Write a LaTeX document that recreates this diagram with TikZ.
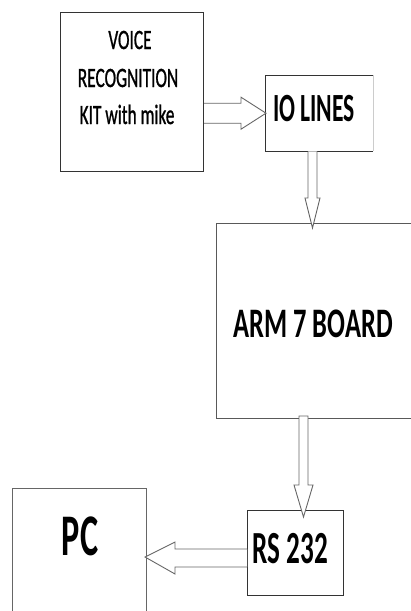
\documentclass[tikz,border=0pt]{standalone}
\usepackage{fontspec}
\setmainfont{Carlito}
\newfontfamily\voicefont[FakeBold=1.2]{Carlito}
\usetikzlibrary{calc}
\begin{document}
\begin{tikzpicture}[x=1pt,y=-1pt,
  box/.style={draw=black!80,line width=1pt,inner sep=0pt},
  arr/.style={draw=black!60,fill=white,line width=0.9pt,line join=miter},
  lbl/.style={anchor=base,inner sep=0pt}]
\useasboundingbox (0,0) rectangle (411,611);
\clip (0,0) rectangle (411,611);
% boxes
\node[box,anchor=north west,minimum width=143pt,minimum height=159pt] (voice) at (60,12) {};
\node[inner sep=0pt,anchor=north west,minimum width=108pt,minimum height=76pt] (io) at (265,75) {};
\draw[black!80,line width=1pt] (io.north east) -- (io.north west) -- (io.south west) -- (io.south east);
\draw[black!80,line width=1.8pt] (io.south west) -- (io.south east);
\draw[black!20,line width=0.8pt] (io.north east) -- (io.south east);
\node[box,draw=black!65,anchor=north west,minimum width=215pt,minimum height=195pt] (arm) at (216,223) {};
\node[box,anchor=north west,minimum width=96pt,minimum height=85pt] (rs) at (247,510) {};
\node[box,draw=black!60,anchor=north west,minimum width=134pt,minimum height=140pt] (pc) at (12,488) {};
% labels
\node[lbl] (v1) at (130,49) {\voicefont\fontsize{28}{34}\selectfont\scalebox{0.62}[1]{VOICE}};
\node[lbl] (v2) at (128,87) {\voicefont\fontsize{28}{34}\selectfont\scalebox{0.62}[1]{RECOGNITION}};
\node[lbl] (v3) at (127,124) {\voicefont\fontsize{28}{34}\selectfont\scalebox{0.62}[1]{KIT with mike}};
\node[lbl] (iot) at (314,121) {\fontsize{40}{48}\selectfont\bfseries\scalebox{0.59}[1]{IO LINES}};
\node[lbl] (armt) at (313,337) {\fontsize{42}{50}\selectfont\bfseries\scalebox{0.63}[1]{ARM 7 BOARD}};
\node[lbl] (rst) at (290.5,563) {\fontsize{46}{55}\selectfont\bfseries\scalebox{0.59}[1]{RS 232}};
\node[lbl] (pct) at (80,555) {\fontsize{59}{70}\selectfont\bfseries\scalebox{0.58}[1]{PC}};
% arrow end points
\coordinate (a1s) at (voice.east |- io.west);
\coordinate (a1t) at ([xshift=1pt]io.west);
\coordinate (a2t) at (312.5,228);
\coordinate (a2s) at (a2t |- io.south);
\coordinate (a3t) at (303.5,517);
\coordinate (a3s) at (a3t |- arm.south);
\coordinate (a4t) at (145,557);
\coordinate (a4s) at (a4t -| rs.west);
% block arrows
\draw[arr] ([yshift=10pt]a1s) -- ([xshift=-25pt,yshift=10pt]a1t) -- ([xshift=-25pt,yshift=16pt]a1t)
  -- (a1t) -- ([xshift=-25pt,yshift=-16pt]a1t) -- ([xshift=-25pt,yshift=-10pt]a1t) -- ([yshift=-10pt]a1s);
\draw[arr] ([xshift=-4.5pt]a2s) -- ([xshift=-4.5pt,yshift=30pt]a2t) -- ([xshift=-7.5pt,yshift=30pt]a2t)
  -- (a2t) -- ([xshift=7.5pt,yshift=30pt]a2t) -- ([xshift=4.5pt,yshift=30pt]a2t) -- ([xshift=4.5pt]a2s);
\draw[arr] ([xshift=-4.5pt,yshift=3pt]a3s) -- ([xshift=-4.5pt,yshift=32pt]a3t) -- ([xshift=-9.5pt,yshift=32pt]a3t)
  -- (a3t) -- ([xshift=9.5pt,yshift=32pt]a3t) -- ([xshift=4.5pt,yshift=32pt]a3t) -- ([xshift=4.5pt,yshift=3pt]a3s) -- cycle;
\draw[arr] (a4s |- 0,549) -- ([xshift=30pt]a4t |- 0,549) -- ([xshift=30pt,yshift=15pt]a4t)
  -- (a4t) -- ([xshift=30pt,yshift=-17pt]a4t) -- ([xshift=30pt]a4t |- 0,567) -- (a4s |- 0,567);
\end{tikzpicture}
\end{document}
